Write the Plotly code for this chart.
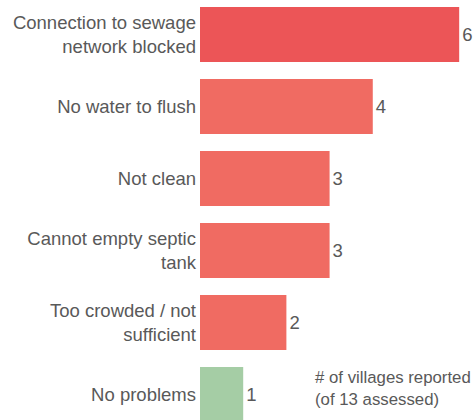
import plotly.graph_objects as go

categories = [
    "Connection to sewage<br>network blocked",
    "No water to flush",
    "Not clean",
    "Cannot empty septic<br>tank",
    "Too crowded / not<br>sufficient",
    "No problems",
]
values = [6, 4, 3, 3, 2, 1]
bar_colors = ["#EC5557", "#F06B62", "#F06B62", "#F06B62", "#F06B62", "#A5CDA5"]
note_text = "# of villages reported<br>(of 13 assessed)"

TEXT = "#595959"
FONT = "Arial, Liberation Sans, sans-serif"

fig = go.Figure(
    go.Bar(
        x=values,
        y=categories,
        orientation="h",
        marker=dict(color=bar_colors, line=dict(width=0)),
        text=[str(v) for v in values],
        textposition="outside",
        textfont=dict(color=TEXT, size=18.5, family=FONT),
        cliponaxis=False,
        constraintext="none",
        hoverinfo="skip",
    )
)

fig.update_layout(
    width=473,
    height=420,
    margin=dict(l=200, r=0, t=0, b=0),
    paper_bgcolor="white",
    plot_bgcolor="white",
    bargap=0.236,
    showlegend=False,
    font=dict(family=FONT, color=TEXT, size=18.5),
    xaxis=dict(
        range=[0, 6.32],
        visible=False,
        showgrid=False,
        zeroline=False,
    ),
    yaxis=dict(
        type="category",
        categoryorder="array",
        categoryarray=categories,
        range=[5.354, -0.479],
        showgrid=False,
        zeroline=False,
        showline=False,
        ticks="",
        tickfont=dict(size=18.5, color=TEXT, family=FONT),
        ticklabelstandoff=3,
    ),
    annotations=[
        dict(
            text=note_text,
            xref="paper",
            yref="paper",
            x=(313 - 200) / 273,
            y=1 - 388 / 420,
            xanchor="left",
            yanchor="middle",
            align="left",
            showarrow=False,
            font=dict(size=16.8, color=TEXT, family=FONT),
        )
    ],
)

fig.write_html(
    "out.html",
    config={"displayModeBar": False},
    post_script="document.body.style.margin='0';document.body.style.overflow='hidden';",
)
